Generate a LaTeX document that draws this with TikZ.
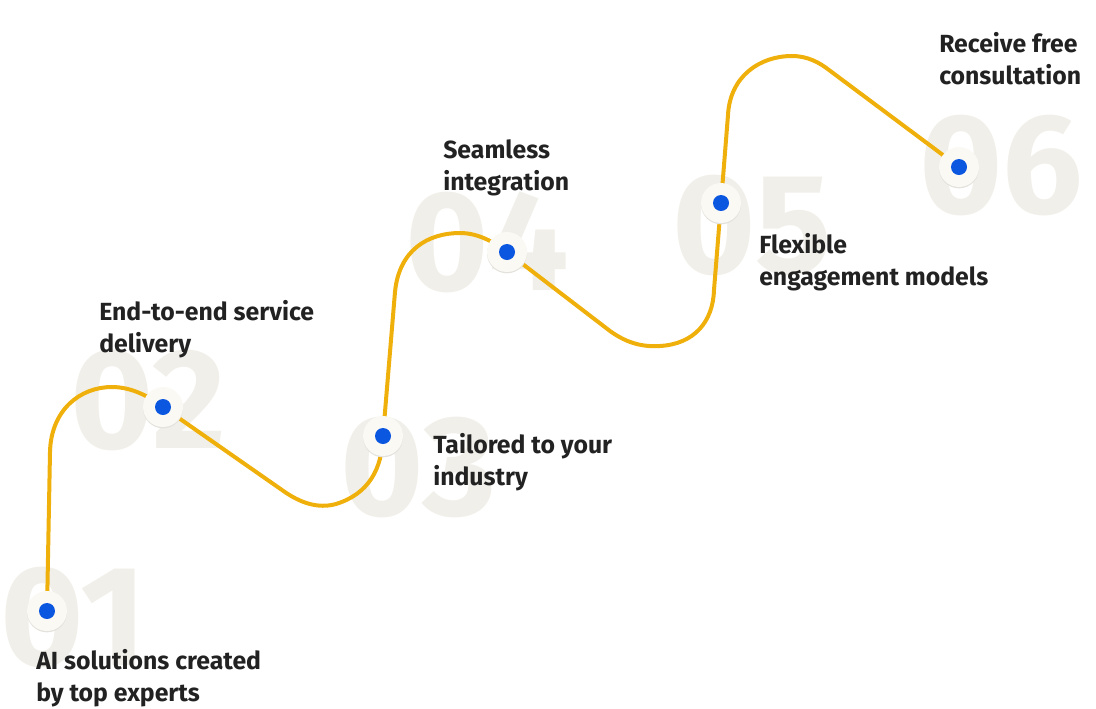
\documentclass[tikz,border=0pt]{standalone}
\usepackage{fontspec}
\setmainfont{Fira Sans}
\definecolor{pathyellow}{HTML}{F0B00C}
\definecolor{dotblue}{HTML}{0B57E0}
\definecolor{cream}{HTML}{FBF9F4}
\definecolor{shadowc}{HTML}{E4E2DC}
\definecolor{digitc}{HTML}{F1EFE9}
\definecolor{textc}{HTML}{222222}
\begin{document}
\begin{tikzpicture}[x=0.75pt,y=-0.75pt,
  bignum/.style={anchor=base west,inner sep=0,text=digitc,font=\fontsize{107}{107}\selectfont\bfseries},
  lbl/.style={anchor=base west,inner sep=0,text=textc,font=\fontsize{18.6}{24}\selectfont\bfseries},
  stepdot/.style={circle,fill=cream,minimum size=30pt,inner sep=0,
    preaction={fill=shadowc,transform canvas={yshift=-1pt}},
    path picture={\fill[dotblue] (path picture bounding box.center) circle (6pt);}},
  route/.style={draw=pathyellow,line width=3pt,line cap=round,line join=round}]
\useasboundingbox (0,0) rectangle (1096,708);
% big numbers
\node[bignum] (n1) at (0,665) {01};
\node[bignum] (n2) at (70,448) {02};
\node[bignum] (n3) at (340,515) {03};
\node[bignum] (n4) at (405,290) {04};
\node[bignum] (n5) at (672,273) {05};
\node[bignum] (n6) at (919,213) {06};
% dot centres
\coordinate (p1) at (47,611);
\coordinate (p2) at (163,407);
\coordinate (p3) at (383,436);
\coordinate (p4) at (507,252);
\coordinate (p5) at (721,203);
\coordinate (p6) at (959,167);
% route
\draw[route] (p1) -- (50,452) .. controls (51,410) and (80,387) .. (112,387)
  .. controls (132,387) and (150,397) .. (p2)
  -- (282,490) .. controls (300,503) and (318,509) .. (336,504)
  .. controls (368,494) and (382,470) .. (p3)
  -- (395,292) .. controls (399,250) and (428,233) .. (460,233)
  .. controls (478,233) and (494,242) .. (p4)
  -- (610,331) .. controls (628,344) and (644,347) .. (660,346)
  .. controls (694,344) and (713,322) .. (714,290)
  -- (p5) -- (728,115) .. controls (730,76) and (760,56) .. (792,56)
  .. controls (808,56) and (820,63) .. (829,70) -- (p6);
% dots
\node[stepdot] (d1) at (p1) {};
\node[stepdot] (d2) at (p2) {};
\node[stepdot] (d3) at (p3) {};
\node[stepdot] (d4) at (p4) {};
\node[stepdot] (d5) at (p5) {};
\node[stepdot] (d6) at (p6) {};
% labels
\node[lbl] (t1a) at (36,669) {AI solutions created};
\node[lbl] (t1b) at (36,701) {by top experts};
\node[lbl] (t2a) at (99,320) {End-to-end service};
\node[lbl] (t2b) at (99,352) {delivery};
\node[lbl] (t3a) at (433,453) {Tailored to your};
\node[lbl] (t3b) at (433,485) {industry};
\node[lbl] (t4a) at (443,158) {Seamless};
\node[lbl] (t4b) at (443,190) {integration};
\node[lbl] (t5a) at (759,253) {Flexible};
\node[lbl] (t5b) at (759,285) {engagement models};
\node[lbl] (t6a) at (939,52) {Receive free};
\node[lbl] (t6b) at (939,84) {consultation};
\end{tikzpicture}
\end{document}
